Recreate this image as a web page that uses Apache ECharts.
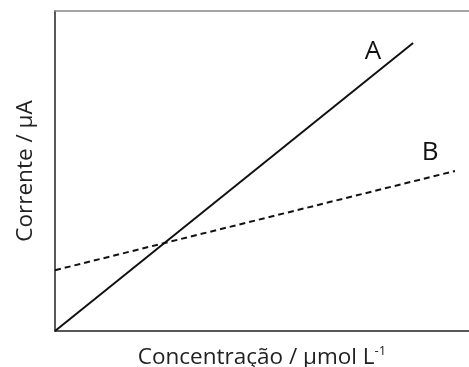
<!DOCTYPE html>
<html>
<head>
<meta charset="utf-8">
<script src="https://cdn.jsdelivr.net/npm/echarts@6/dist/echarts.min.js"></script>
<style>
html, body { margin: 0; padding: 0; background: #fff; }
#chart { width: 469px; height: 367px; }
</style>
</head>
<body>
<div id="chart"></div>
<script>
// straight lines, arbitrary units (no ticks shown on the original)
var lineA = [[0, 0], [86.5, 90]];
var lineB = [[0, 19], [96.6, 50]];
var labelA = [76.8, 87.2];
var labelB = [90.6, 55.6];

function drawChart() {
    var myChart = echarts.init(document.getElementById('chart'));
    var font = '"Open Sans", "Noto Sans", sans-serif';
    var hidden = { axisTick: { show: false }, axisLabel: { show: false }, splitLine: { show: false } };
    var option = {
        animation: false,
        grid: { left: 55, top: 11, right: 0, bottom: 36, outerBoundsMode: 'none', containLabel: false },
        xAxis: [Object.assign({
            type: 'value', min: 0, max: 100,
            name: 'Concentração / µmol L{sup|-1}',
            nameLocation: 'middle', nameGap: 14,
            nameTextStyle: {
                fontFamily: font, fontSize: 22.5, color: '#222', verticalAlign: 'top',
                rich: { sup: { fontFamily: font, fontSize: 13, color: '#222', verticalAlign: 'top', padding: [0, 0, 12, 0] } }
            },
            axisLine: { lineStyle: { color: '#222', width: 1.5 } }
        }, hidden), Object.assign({
            // top frame line
            type: 'value', min: 0, max: 100, position: 'top',
            axisLine: { show: true, lineStyle: { color: '#888', width: 1.5 } }
        }, hidden)],
        yAxis: Object.assign({
            type: 'value', min: 0, max: 100,
            name: 'Corrente / µA',
            nameLocation: 'middle', nameGap: 18,
            nameTextStyle: { fontFamily: font, fontSize: 22.5, color: '#222' },
            axisLine: { show: true, lineStyle: { color: '#222', width: 1.5 } }
        }, hidden),
        series: [{
            type: 'line', data: lineA, symbol: 'none',
            lineStyle: { color: '#111', width: 2 },
            markPoint: {
                symbolSize: 0,
                label: { show: true, formatter: 'A', fontFamily: font, fontSize: 26, color: '#111' },
                data: [{ coord: labelA }]
            }
        }, {
            type: 'line', data: lineB, symbol: 'none',
            lineStyle: { color: '#111', width: 2, type: [6, 4] },
            markPoint: {
                symbolSize: 0,
                label: { show: true, formatter: 'B', fontFamily: font, fontSize: 26, color: '#111' },
                data: [{ coord: labelB }]
            }
        }]
    };
    myChart.setOption(option);
}
window.onload = drawChart;
</script>
</body>
</html>
